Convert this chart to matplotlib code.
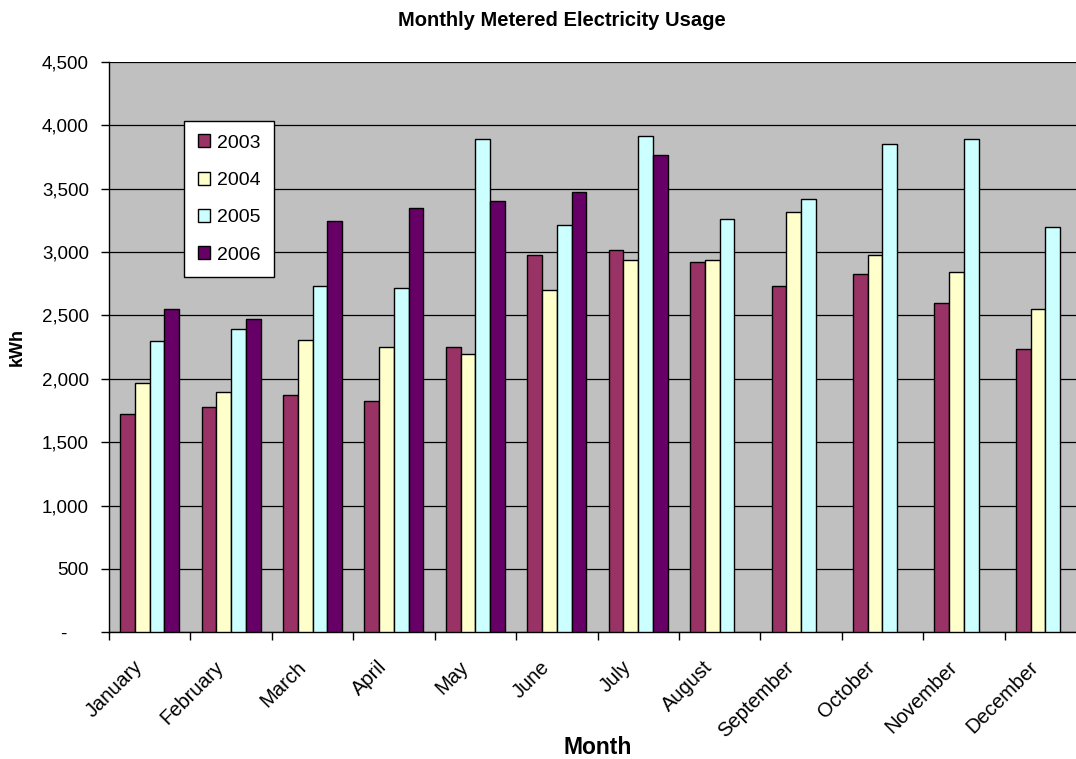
import numpy as np
import matplotlib
matplotlib.use("Agg")
import matplotlib.pyplot as plt
import matplotlib.transforms as mtransforms
from matplotlib.ticker import FixedLocator, FuncFormatter

plt.rcParams['font.family'] = ['Liberation Sans', 'DejaVu Sans']

months = ["January", "February", "March", "April", "May", "June",
          "July", "August", "September", "October", "November", "December"]
years = ["2003", "2004", "2005", "2006"]

# kWh per month, 2006 only runs through July
usage_2003 = [1725, 1775, 1870, 1825, 2255, 2975, 3020, 2925, 2735, 2830, 2595, 2235]
usage_2004 = [1970, 1900, 2305, 2255, 2200, 2705, 2940, 2935, 3320, 2980, 2840, 2555]
usage_2005 = [2300, 2395, 2735, 2720, 3895, 3215, 3920, 3265, 3420, 3850, 3895, 3195]
usage_2006 = [2550, 2475, 3245, 3345, 3405, 3475, 3765,
              np.nan, np.nan, np.nan, np.nan, np.nan]

colors = ["#993366", "#FFFFCC", "#CCFFFF", "#660066"]

W, H = 1076, 759
fig = plt.figure(figsize=(W / 100, H / 100), dpi=100)
ax = fig.add_axes([0.1013, 0.1669, 0.908, 0.7514])
ax.set_facecolor("#C0C0C0")

x = np.arange(len(months))
w = 0.181
for j, (vals, yr) in enumerate(zip([usage_2003, usage_2004, usage_2005, usage_2006], years)):
    ax.bar(x + (j - 1.5) * w, vals, width=w, color=colors[j],
           edgecolor="black", linewidth=1.0, label=yr, zorder=3)

ax.set_xlim(-0.5, 11.5)
ax.set_ylim(0, 4500)
ax.set_yticks(np.arange(0, 4501, 500))
ax.yaxis.set_major_formatter(FuncFormatter(lambda v, p: "-    " if v == 0 else f"{int(v):,}"))
ax.yaxis.grid(True, color="black", linewidth=0.9, zorder=1)
ax.set_axisbelow(True)

# category boundaries get the tick marks, centres get the labels
ax.xaxis.set_major_locator(FixedLocator(np.arange(-0.5, 12, 1)))
ax.xaxis.set_minor_locator(FixedLocator(x))
ax.xaxis.set_major_formatter(FuncFormatter(lambda v, p: ""))
ax.set_xticklabels(months, minor=True, rotation=45, ha="right",
                   rotation_mode="anchor", fontsize=14.5)
ax.tick_params(axis="x", which="minor", length=0, pad=18)
ax.tick_params(axis="x", which="major", length=6, width=1, color="black")
ax.tick_params(axis="y", length=6, width=1, labelsize=13.5, pad=8.5)

shift = mtransforms.ScaledTranslation(-12 / 72, 0, fig.dpi_scale_trans)
for lab in ax.get_xticklabels(minor=True):
    lab.set_transform(lab.get_transform() + shift)

for side in ["top", "right"]:
    ax.spines[side].set_visible(False)
for side in ["left", "bottom"]:
    ax.spines[side].set_color("black")
    ax.spines[side].set_linewidth(1.0)

fig.text(17 / W, 1 - 347 / H, "kWh", rotation=90, ha="center", va="center",
         fontsize=13, fontweight="bold")
fig.text(597.5 / W, 1 - 748 / H, "Month", ha="center", va="center",
         fontsize=16.5, fontweight="bold")
fig.text(562 / W, 1 - 20 / H, "Monthly Metered Electricity Usage",
         ha="center", va="center", fontsize=14.5, fontweight="bold")

leg = ax.legend(loc="upper left", bbox_to_anchor=(0.0771, 0.8966),
                fontsize=14, frameon=True, fancybox=False, shadow=False,
                borderaxespad=0, handlelength=0.65, handleheight=0.65,
                handletextpad=0.35, labelspacing=1.03, borderpad=0.68)
leg.get_frame().set_edgecolor("black")
leg.get_frame().set_linewidth(1.0)
leg.get_frame().set_facecolor("white")
leg.get_frame().set_alpha(1)

fig.savefig("out.png", dpi=100, facecolor="white")
